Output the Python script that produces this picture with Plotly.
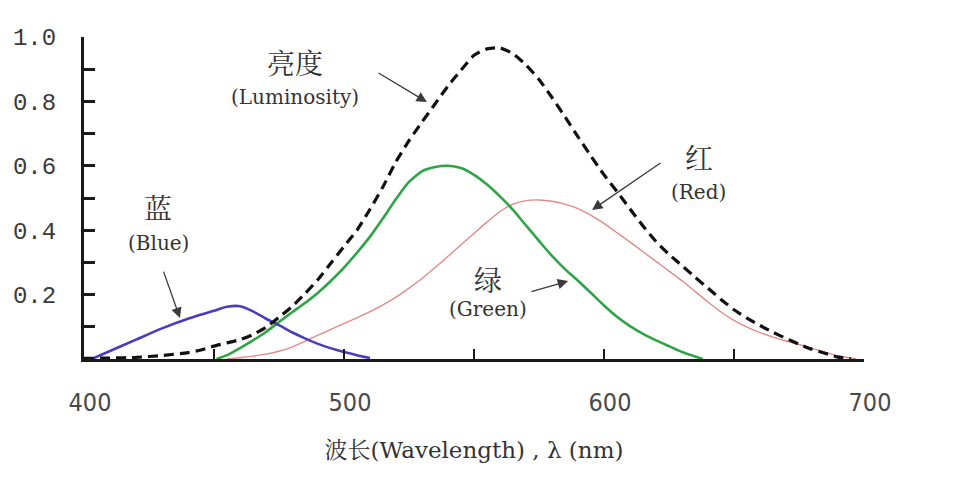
import plotly.graph_objects as go

# ---- data ----
blue_nm = [403, 410, 420, 430, 440, 450, 455, 460, 465, 470, 475, 480, 485, 490, 495, 500, 505, 510]
blue_val = [0.0, 0.025, 0.06, 0.095, 0.125, 0.15, 0.162, 0.164, 0.148, 0.125, 0.105, 0.083, 0.064, 0.047, 0.033, 0.022, 0.012, 0.003]

green_nm = [451, 455, 460, 465, 470, 475, 480, 485, 490, 495, 500, 505, 510, 515, 520, 525, 530, 535, 540,
            545, 550, 555, 560, 565, 570, 575, 580, 585, 590, 595, 600, 605, 610, 615, 620, 625, 630, 635, 638]
green_val = [0.0, 0.012, 0.034, 0.058, 0.084, 0.115, 0.145, 0.174, 0.206, 0.243, 0.284, 0.33, 0.38, 0.437, 0.497,
             0.55, 0.583, 0.596, 0.6, 0.593, 0.572, 0.542, 0.505, 0.463, 0.415, 0.367, 0.32, 0.279, 0.243, 0.205,
             0.166, 0.131, 0.102, 0.078, 0.058, 0.04, 0.022, 0.008, 0.0]

red_nm = [455, 460, 465, 470, 475, 480, 485, 490, 495, 500, 505, 510, 515, 520, 525, 530, 535, 540, 545, 550,
          555, 560, 565, 570, 575, 580, 585, 590, 595, 600, 605, 610, 615, 620, 625, 630, 635, 640, 645, 650,
          655, 660, 665, 670, 675, 680, 685, 690, 697]
red_val = [0.0, 0.004, 0.009, 0.015, 0.024, 0.037, 0.055, 0.074, 0.092, 0.11, 0.128, 0.147, 0.168, 0.192, 0.22,
           0.25, 0.284, 0.319, 0.355, 0.39, 0.425, 0.458, 0.481, 0.492, 0.494, 0.49, 0.481, 0.467, 0.446, 0.421,
           0.392, 0.363, 0.333, 0.303, 0.273, 0.243, 0.21, 0.177, 0.146, 0.12, 0.099, 0.082, 0.068, 0.056,
           0.045, 0.033, 0.021, 0.01, 0.0]

lum_nm = [400, 410, 420, 430, 440, 445, 450, 455, 460, 465, 470, 475, 480, 485, 490, 495, 500, 505, 510, 515,
          520, 525, 530, 535, 540, 545, 550, 555, 560, 565, 570, 575, 580, 585, 590, 595, 600, 605, 610, 615,
          620, 625, 630, 635, 640, 645, 650, 655, 660, 665, 670, 675, 680, 685, 690, 695]
lum_val = [0.002, 0.003, 0.005, 0.011, 0.02, 0.028, 0.04, 0.05, 0.06, 0.076, 0.098, 0.13, 0.163, 0.203, 0.247,
           0.298, 0.35, 0.4, 0.465, 0.535, 0.613, 0.678, 0.736, 0.792, 0.848, 0.897, 0.943, 0.963, 0.966, 0.948,
           0.913, 0.868, 0.812, 0.752, 0.69, 0.63, 0.572, 0.52, 0.466, 0.413, 0.365, 0.325, 0.29, 0.254, 0.22,
           0.185, 0.153, 0.127, 0.104, 0.083, 0.064, 0.046, 0.03, 0.018, 0.006, 0.0]

x_ticks = [400, 450, 500, 550, 600, 650, 700]
x_ticktext = ["400", "", "500", "", "600", "", "700"]
y_ticks = [0.1, 0.2, 0.3, 0.4, 0.5, 0.6, 0.7, 0.8, 0.9, 1.0]
y_ticktext = ["", "0.2", "", "0.4", "", "0.6", "", "0.8", "", "1.0"]

# labels: (text_cn, text_en, label x, cn y, en y, arrow head x, head y, tail x, tail y)
labels = [
    ("亮度", "(Luminosity)", 481.0, 0.922, 0.814, 531.9, 0.798, 512.7, 0.891),
    ("蓝", "(Blue)", 428.5, 0.472, 0.360, 436.9, 0.127, 430.4, 0.276),
    ("红", "(Red)", 636.5, 0.627, 0.519, 595.4, 0.463, 622.3, 0.612),
    ("绿", "(Green)", 555.5, 0.248, 0.155, 586.2, 0.242, 571.5, 0.208),
]

SERIF = "DejaVu Serif"
CJK = "Noto Serif CJK SC, Noto Sans CJK SC"

fig = go.Figure()
fig.add_trace(go.Scatter(x=red_nm, y=red_val, mode="lines", line=dict(color="#e08a8a", width=1.4, shape="spline", smoothing=0.6)))
fig.add_trace(go.Scatter(x=green_nm, y=green_val, mode="lines", line=dict(color="#2fa446", width=2.6, shape="spline", smoothing=0.6)))
fig.add_trace(go.Scatter(x=blue_nm, y=blue_val, mode="lines", line=dict(color="#4a3dbd", width=2.6, shape="spline", smoothing=0.6)))
fig.add_trace(go.Scatter(x=lum_nm, y=lum_val, mode="lines", line=dict(color="#111111", width=3.2, dash="10px,6px", shape="spline", smoothing=0.6)))

annotations = []
for cn, en, lx, cy, ey, hx, hy, tx, ty in labels:
    annotations.append(dict(x=lx, y=cy, xref="x", yref="y", text=cn, showarrow=False,
                            font=dict(family=CJK, size=28, color="#333333")))
    annotations.append(dict(x=lx, y=ey, xref="x", yref="y", text=en, showarrow=False,
                            font=dict(family=SERIF, size=20, color="#333333")))
    annotations.append(dict(x=hx, y=hy, xref="x", yref="y", ax=tx, ay=ty, axref="x", ayref="y",
                            text="", showarrow=True, arrowhead=2, arrowsize=1.6, arrowwidth=1.3,
                            arrowcolor="#3a3a3a"))

fig.update_layout(
    width=970, height=486,
    margin=dict(l=84, r=106, t=37, b=127),
    paper_bgcolor="white", plot_bgcolor="white",
    showlegend=False,
    annotations=annotations,
)
fig.update_xaxes(
    range=[400, 700], showgrid=False, zeroline=False,
    showline=True, linewidth=3, linecolor="#1a1a1a",
    ticks="inside", ticklen=10, tickwidth=2, tickcolor="#1a1a1a",
    tickvals=x_ticks, ticktext=x_ticktext,
    tickfont=dict(family="Liberation Sans Narrow, DejaVu Sans Condensed, sans-serif", size=25, color="#4a4a4a"),
    ticklabelstandoff=19, ticklabelshift=6,
    title=dict(text="波长(Wavelength) , λ (nm)", font=dict(family="DejaVu Serif, " + CJK, size=23, color="#333333"),
               standoff=26),
)
fig.update_yaxes(
    range=[0, 1.0], showgrid=False, zeroline=False,
    showline=True, linewidth=3, linecolor="#1a1a1a",
    ticks="inside", ticklen=11, tickwidth=2.5, tickcolor="#1a1a1a",
    tickvals=y_ticks, ticktext=y_ticktext,
    tickfont=dict(family="Liberation Mono, DejaVu Sans Mono, monospace", size=24, color="#3a3a3a"),
    ticklabelstandoff=20,
)

fig.write_html("out.html")
